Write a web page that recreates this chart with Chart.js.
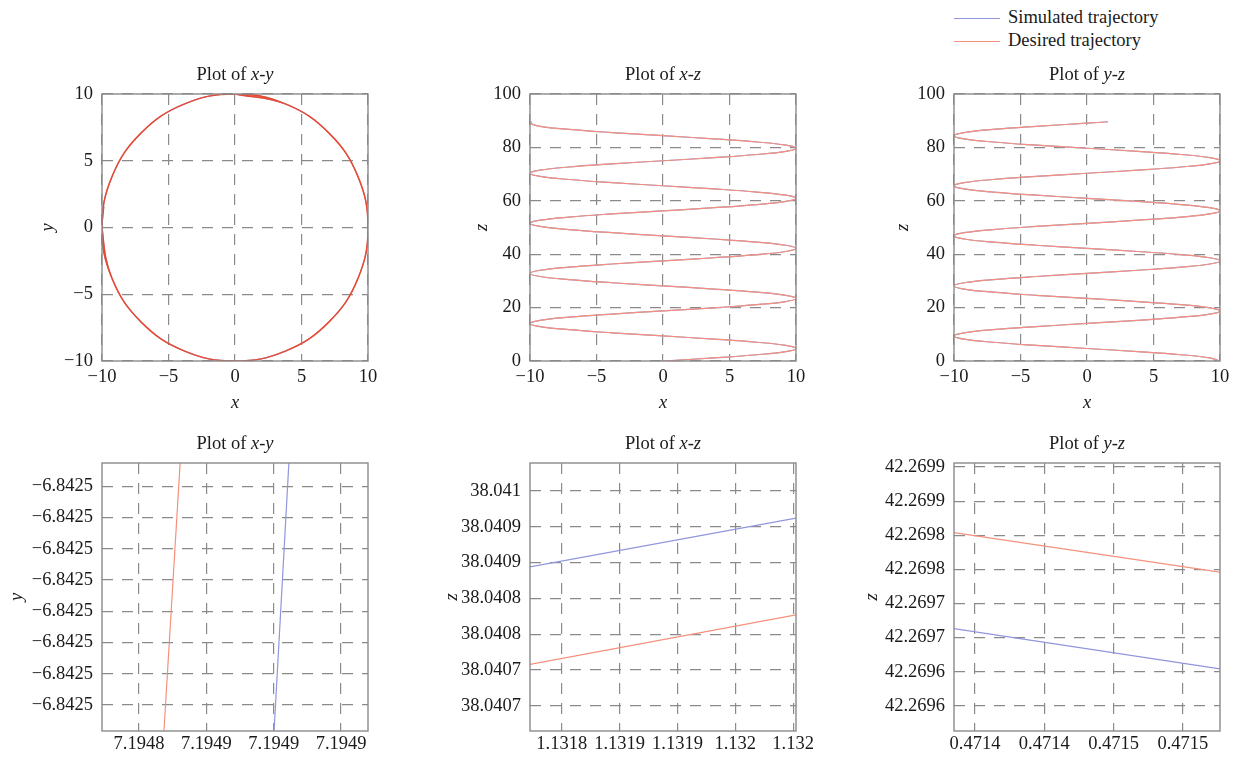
<!DOCTYPE html>
<html><head><meta charset="utf-8">
<script src="https://cdn.jsdelivr.net/npm/chart.js@4"></script>
<style>
html,body{margin:0;padding:0;background:#fff;overflow:hidden;width:1237px;height:757px;}
canvas{position:absolute;}
#legend{position:absolute;left:954px;top:6px;font:18.5px 'Liberation Serif',serif;color:#1a1a1a;}
.item{height:23px;line-height:23px;white-space:nowrap;}
.sw{display:inline-block;width:46px;height:0;border-top:1px solid;vertical-align:middle;margin-right:8px;}
</style></head>
<body>
<div id="legend">
  <div class="item"><span class="sw" style="border-color:#9096dc"></span>Simulated trajectory</div>
  <div class="item"><span class="sw" style="border-color:#f5917b"></span>Desired trajectory</div>
</div>
<canvas id="c1" width="392" height="368" style="left:0px;top:50px"></canvas>
<canvas id="c2" width="392" height="368" style="left:428px;top:50px"></canvas>
<canvas id="c3" width="392" height="368" style="left:852px;top:50px"></canvas>
<canvas id="c4" width="392" height="338" style="left:0px;top:419px"></canvas>
<canvas id="c5" width="392" height="338" style="left:428px;top:419px"></canvas>
<canvas id="c6" width="392" height="338" style="left:852px;top:419px"></canvas>
<script>
// ---------- data ----------
// full trajectory (desired), sampled along z
const zSamples = [0, 1.17, 2.34, 3.52, 4.69, 5.86, 7.03, 8.20, 9.38, 10.55, 11.72, 12.89, 14.06, 15.23, 16.41, 17.58,
  18.75, 19.92, 21.09, 22.27, 23.44, 24.61, 25.78, 26.95, 28.13, 29.30, 30.47, 31.64, 32.81, 33.98, 35.16, 36.33,
  37.50, 38.67, 39.84, 41.02, 42.19, 43.36, 44.53, 45.70, 46.88, 48.05, 49.22, 50.39, 51.56, 52.73, 53.91, 55.08,
  56.25, 57.42, 58.59, 59.77, 60.94, 62.11, 63.28, 64.45, 65.63, 66.80, 67.97, 69.14, 70.31, 71.48, 72.66, 73.83,
  75.00, 76.17, 77.34, 78.52, 79.69, 80.86, 82.03, 83.20, 84.38, 85.55, 86.72, 87.89, 89.06, 89.60];
const desX = [0, 3.83, 7.07, 9.24, 10, 9.24, 7.07, 3.83, 0, -3.83, -7.07, -9.24, -10, -9.24, -7.07, -3.83,
  0, 3.83, 7.07, 9.24, 10, 9.24, 7.07, 3.83, 0, -3.83, -7.07, -9.24, -10, -9.24, -7.07, -3.83,
  0, 3.83, 7.07, 9.24, 10, 9.24, 7.07, 3.83, 0, -3.83, -7.07, -9.24, -10, -9.24, -7.07, -3.83,
  0, 3.83, 7.07, 9.24, 10, 9.24, 7.07, 3.83, 0, -3.83, -7.07, -9.24, -10, -9.24, -7.07, -3.83,
  0, 3.83, 7.07, 9.24, 10, 9.24, 7.07, 3.83, 0, -3.83, -7.07, -9.24, -10, -9.87];
const desY = [10, 9.24, 7.07, 3.83, 0, -3.83, -7.07, -9.24, -10, -9.24, -7.07, -3.83, 0, 3.83, 7.07, 9.24,
  10, 9.24, 7.07, 3.83, 0, -3.83, -7.07, -9.24, -10, -9.24, -7.07, -3.83, 0, 3.83, 7.07, 9.24,
  10, 9.24, 7.07, 3.83, 0, -3.83, -7.07, -9.24, -10, -9.24, -7.07, -3.83, 0, 3.83, 7.07, 9.24,
  10, 9.24, 7.07, 3.83, 0, -3.83, -7.07, -9.24, -10, -9.24, -7.07, -3.83, 0, 3.83, 7.07, 9.24,
  10, 9.24, 7.07, 3.83, 0, -3.83, -7.07, -9.24, -10, -9.24, -7.07, -3.83, 0, 1.58];
// simulated trajectory coincides with the desired one at full scale
const simX = desX, simY = desY, simZ = zSamples;

// zoomed x-y
const zoomXYdesX = [7.1948474, 7.1948522];
const zoomXYsimX = [7.1948801, 7.1948845];
const zoomXYy = [-6.84250483, -6.84249626];
// zoomed x-z
const zoomXZx = [1.131818, 1.132002];
const zoomXZdesZ = [38.040728, 38.040797];
const zoomXZsimZ = [38.040864, 38.040932];
// zoomed y-z
const zoomYZy = [0.4713679, 0.4715214];
const zoomYZdesZ = [42.269804, 42.269746];
const zoomYZsimZ = [42.269663, 42.269604];

// tick values and labels
const ticksPm10 = [-10, -5, 0, 5, 10];
const labelsPm10 = ['\u221210', '\u22125', '0', '5', '10'];
const ticksZ = [0, 20, 40, 60, 80, 100];
const labelsZ = ['0', '20', '40', '60', '80', '100'];
const ticksXYx = [7.19484, 7.19486, 7.19488, 7.19490];
const labelsXYx = ['7.1948', '7.1949', '7.1949', '7.1949'];
const ticksXYy = [-6.842497, -6.842498, -6.842499, -6.842500, -6.842501, -6.842502, -6.842503, -6.842504];
const labelsXYy = ['\u22126.8425', '\u22126.8425', '\u22126.8425', '\u22126.8425', '\u22126.8425', '\u22126.8425', '\u22126.8425', '\u22126.8425'];
const ticksXZx = [1.13184, 1.13188, 1.13192, 1.13196, 1.13200];
const labelsXZx = ['1.1318', '1.1319', '1.1319', '1.132', '1.132'];
const ticksXZz = [38.04097, 38.04092, 38.04087, 38.04082, 38.04077, 38.04072, 38.04067];
const labelsXZz = ['38.041', '38.0409', '38.0409', '38.0408', '38.0408', '38.0407', '38.0407'];
const ticksYZy = [0.47138, 0.47142, 0.47146, 0.47150];
const labelsYZy = ['0.4714', '0.4714', '0.4715', '0.4715'];
const ticksYZz = [42.26990, 42.26985, 42.26980, 42.26975, 42.26970, 42.26965, 42.26960, 42.26955];
const labelsYZz = ['42.2699', '42.2699', '42.2698', '42.2698', '42.2697', '42.2697', '42.2696', '42.2696'];

// ---------- styling & helpers ----------
const FONT = "'Liberation Serif','Times New Roman',serif";
const FS = 18.5;
const TXT = '#1a1a1a';
const DES = '#f5917b', SIM = '#9096dc';

function pts(xs, ys) { return xs.map((x, i) => ({x: x, y: ys[i]})); }

const framePlugin = {
  id: 'frame',
  afterDatasetsDraw(chart) {
    const a = chart.chartArea, c = chart.ctx;
    c.save(); c.strokeStyle = '#8a8a8a'; c.lineWidth = 1.4;
    c.strokeRect(a.left, a.top, a.right - a.left, a.bottom - a.top);
    c.restore();
  }
};
const titlePlugin = {
  id: 'mixedTitle',
  afterDraw(chart, args, opts) {
    const a = chart.chartArea, c = chart.ctx;
    c.save(); c.fillStyle = TXT; c.textBaseline = 'middle'; c.textAlign = 'left';
    const f1 = FS + 'px ' + FONT, f2 = 'italic ' + FS + 'px ' + FONT;
    c.font = f1; const w1 = c.measureText(opts.plain).width;
    c.font = f2; const w2 = c.measureText(opts.italic).width;
    const x = (a.left + a.right) / 2 - (w1 + w2) / 2, y = a.top - 19;
    c.font = f1; c.fillText(opts.plain, x, y);
    c.font = f2; c.fillText(opts.italic, x + w1, y);
    c.restore();
  }
};

function axis(o) {
  return {
    type: 'linear', position: o.pos, min: o.min, max: o.max,
    afterBuildTicks(s) { s.ticks = o.ticks.map(v => ({value: v})); },
    afterFit(s) { if (o.pos === 'left') s.width = 102; else s.height = o.h; },
    ticks: {
      callback: (v, i) => o.labels[i], autoSkip: false, maxRotation: 0, minRotation: 0,
      font: {family: FONT, size: FS}, color: TXT, padding: o.pad
    },
    grid: {color: '#8a8a8a', lineWidth: 1.2, drawTicks: false},
    border: {display: false, dash: [11, 9]},
    title: o.title ? {display: true, text: o.title, color: TXT,
      font: {family: FONT, size: FS, style: 'italic'}, padding: o.tpad} : {display: false}
  };
}

function make(id, t1, t2, datasets, xo, yo) {
  new Chart(document.getElementById(id), {
    type: 'line',
    data: {datasets: datasets},
    plugins: [framePlugin, titlePlugin],
    options: {
      responsive: false, animation: false, events: [], devicePixelRatio: 1,
      layout: {padding: {top: 44, right: 24, bottom: 0, left: 0}},
      elements: {point: {radius: 0}},
      plugins: {legend: {display: false}, tooltip: {enabled: false}, mixedTitle: {plain: t1, italic: t2}},
      scales: {x: axis(xo), y: axis(yo)}
    }
  });
}
function ds(data, color, w, tension) {
  return {data: data, borderColor: color, borderWidth: w, pointRadius: 0, tension: tension, fill: false};
}

// ---------- top row ----------
make('c1', 'Plot of ', 'x-y',
  [ds(pts(desX, desY), '#e94a30', 1.5, 0.4), ds(pts(simX, simY), SIM, 1.2, 0.4)],
  {pos: 'bottom', min: -10, max: 10, ticks: ticksPm10, labels: labelsPm10, pad: 5, h: 57, title: 'x', tpad: {top: 0, bottom: 4}},
  {pos: 'left', min: -10, max: 10, ticks: ticksPm10, labels: labelsPm10, pad: 9, title: 'y', tpad: {top: 37, bottom: 0}});
make('c2', 'Plot of ', 'x-z',
  [ds(pts(desX, zSamples), DES, 1.2, 0.4), ds(pts(simX, simZ), SIM, 1.2, 0.4)],
  {pos: 'bottom', min: -10, max: 10, ticks: ticksPm10, labels: labelsPm10, pad: 5, h: 57, title: 'x', tpad: {top: 0, bottom: 4}},
  {pos: 'left', min: 0, max: 100, ticks: ticksZ, labels: labelsZ, pad: 9, title: 'z', tpad: {top: 43, bottom: 0}});
make('c3', 'Plot of ', 'y-z',
  [ds(pts(desY, zSamples), DES, 1.2, 0.4), ds(pts(simY, simZ), SIM, 1.2, 0.4)],
  {pos: 'bottom', min: -10, max: 10, ticks: ticksPm10, labels: labelsPm10, pad: 5, h: 57, title: 'x', tpad: {top: 0, bottom: 4}},
  {pos: 'left', min: 0, max: 100, ticks: ticksZ, labels: labelsZ, pad: 9, title: 'z', tpad: {top: 40, bottom: 0}});

// ---------- bottom row ----------
make('c4', 'Plot of ', 'x-y',
  [ds(pts(zoomXYdesX, zoomXYy), DES, 1.2, 0), ds(pts(zoomXYsimX, zoomXYy), SIM, 1.2, 0)],
  {pos: 'bottom', min: 7.194829, max: 7.194908, ticks: ticksXYx, labels: labelsXYx, pad: 2, h: 26},
  {pos: 'left', min: -6.84250483, max: -6.84249626, ticks: ticksXYy, labels: labelsXYy, pad: 9, title: 'y', tpad: {top: 6, bottom: 0}});
make('c5', 'Plot of ', 'x-z',
  [ds(pts(zoomXZx, zoomXZdesZ), DES, 1.2, 0), ds(pts(zoomXZx, zoomXZsimZ), SIM, 1.2, 0)],
  {pos: 'bottom', min: 1.131818, max: 1.132002, ticks: ticksXZx, labels: labelsXZx, pad: 2, h: 26},
  {pos: 'left', min: 38.040635, max: 38.041009, ticks: ticksXZz, labels: labelsXZz, pad: 9, title: 'z', tpad: {top: 13, bottom: 0}});
make('c6', 'Plot of ', 'y-z',
  [ds(pts(zoomYZy, zoomYZdesZ), DES, 1.2, 0), ds(pts(zoomYZy, zoomYZsimZ), SIM, 1.2, 0)],
  {pos: 'bottom', min: 0.4713679, max: 0.4715214, ticks: ticksYZy, labels: labelsYZy, pad: 2, h: 26},
  {pos: 'left', min: 42.269513, max: 42.269906, ticks: ticksYZz, labels: labelsYZz, pad: 9, title: 'z', tpad: {top: 9, bottom: 0}});
</script>
</body></html>
